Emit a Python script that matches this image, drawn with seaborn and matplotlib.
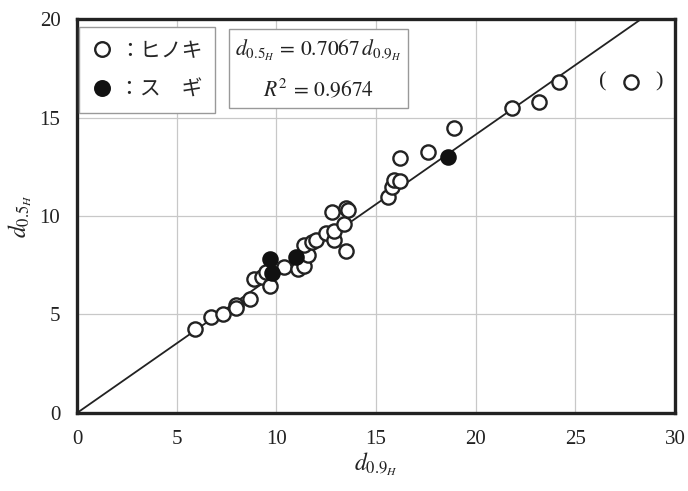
import matplotlib
matplotlib.use("Agg")
import matplotlib.pyplot as plt
import seaborn as sns
import numpy as np
import pandas as pd
from matplotlib.lines import Line2D

# hinoki (open circles)
hinoki_x = [5.9, 6.7, 7.3, 8.0, 8.0, 8.7, 8.9, 9.3, 9.5, 9.7, 10.4, 11.1, 11.4, 11.6, 11.4,
            11.8, 12.0, 12.5, 12.9, 12.9, 13.4, 12.8, 13.5, 13.6, 13.5, 15.6, 15.8, 15.9,
            16.2, 16.2, 17.6, 18.9, 21.8, 23.2, 24.2, 27.8]
hinoki_y = [4.25, 4.85, 5.05, 5.5, 5.35, 5.8, 6.8, 6.9, 7.15, 6.45, 7.4, 7.3, 7.45, 8.0, 8.55,
            8.7, 8.8, 9.15, 8.8, 9.25, 9.6, 10.2, 10.4, 10.3, 8.2, 10.95, 11.5, 11.85,
            11.8, 12.95, 13.25, 14.45, 15.5, 15.8, 16.8, 16.8]
# sugi (filled circles)
sugi_x = [9.7, 9.8, 11.0, 18.6]
sugi_y = [7.8, 7.1, 7.9, 13.0]

slope = 0.7067
r2 = 0.9674

sns.set_style("white")
plt.rcParams['font.family'] = ['Liberation Serif', 'Noto Sans CJK JP', 'DejaVu Sans']
plt.rcParams['mathtext.fontset'] = 'stix'

df_h = pd.DataFrame({"x": hinoki_x, "y": hinoki_y})
df_s = pd.DataFrame({"x": sugi_x, "y": sugi_y})

fig = plt.figure(figsize=(6.88, 4.91), dpi=100)
ax = fig.add_axes([0.112, 0.159, 0.869, 0.802])

xl = np.array([0, 20 / slope])
ax.plot(xl, slope * xl, color='#222222', lw=1.3, zorder=2)

sns.scatterplot(data=df_h, x="x", y="y", ax=ax, color='white', edgecolor='#222222',
                linewidth=1.7, s=105, zorder=3)
sns.scatterplot(data=df_s, x="x", y="y", ax=ax, color='#111111', edgecolor='#111111',
                linewidth=1.7, s=105, zorder=4)

ax.set_xlim(0, 30)
ax.set_ylim(0, 20)
ax.set_xticks(range(0, 31, 5))
ax.set_yticks(range(0, 21, 5))
ax.grid(True, color='#c8c8c8', lw=0.9)
ax.set_axisbelow(True)
for sp in ax.spines.values():
    sp.set_visible(True)
    sp.set_linewidth(2.4)
    sp.set_color('#222222')
ax.tick_params(length=0, labelsize=15, pad=12, colors='#222222')
ax.set_xlabel(r'$d_{0.9_H}$', fontsize=17, labelpad=1, color='#222222')
ax.set_ylabel(r'$d_{0.5_H}$', fontsize=17, labelpad=4, color='#222222')

# parentheses around the last hinoki point
ax.text(26.4, 16.8, '(', ha='center', va='center', fontsize=16, color='#222222')
ax.text(29.2, 16.8, ')', ha='center', va='center', fontsize=16, color='#222222')

handles = [
    Line2D([], [], marker='o', ls='', mfc='white', mec='#222222', mew=1.7, ms=10.5),
    Line2D([], [], marker='o', ls='', mfc='#111111', mec='#111111', mew=1.7, ms=10.5),
]
leg = ax.legend(handles, ['：ヒノキ', '：ス　ギ'], loc='upper left',
                bbox_to_anchor=(0.0, 0.985), frameon=True, fancybox=False,
                edgecolor='#999999', framealpha=1, handletextpad=0.3,
                borderpad=0.6, labelspacing=0.8, handlelength=1.0,
                borderaxespad=0.1,
                prop={'family': ['Noto Sans CJK JP'], 'size': 15})
leg.get_frame().set_linewidth(1.0)

ax.text(0.404, 0.872, r'$d_{0.5_H}\,=\,0.7067\,d_{0.9_H}$' + '\n' + r'$R^2\,=\,0.9674$',
        transform=ax.transAxes, ha='center', va='center', fontsize=15.5,
        multialignment='center', linespacing=1.8, color='#222222',
        bbox=dict(boxstyle='square,pad=0.3', fc='white', ec='#999999', lw=1.0))

fig.savefig('out.png', dpi=100)
